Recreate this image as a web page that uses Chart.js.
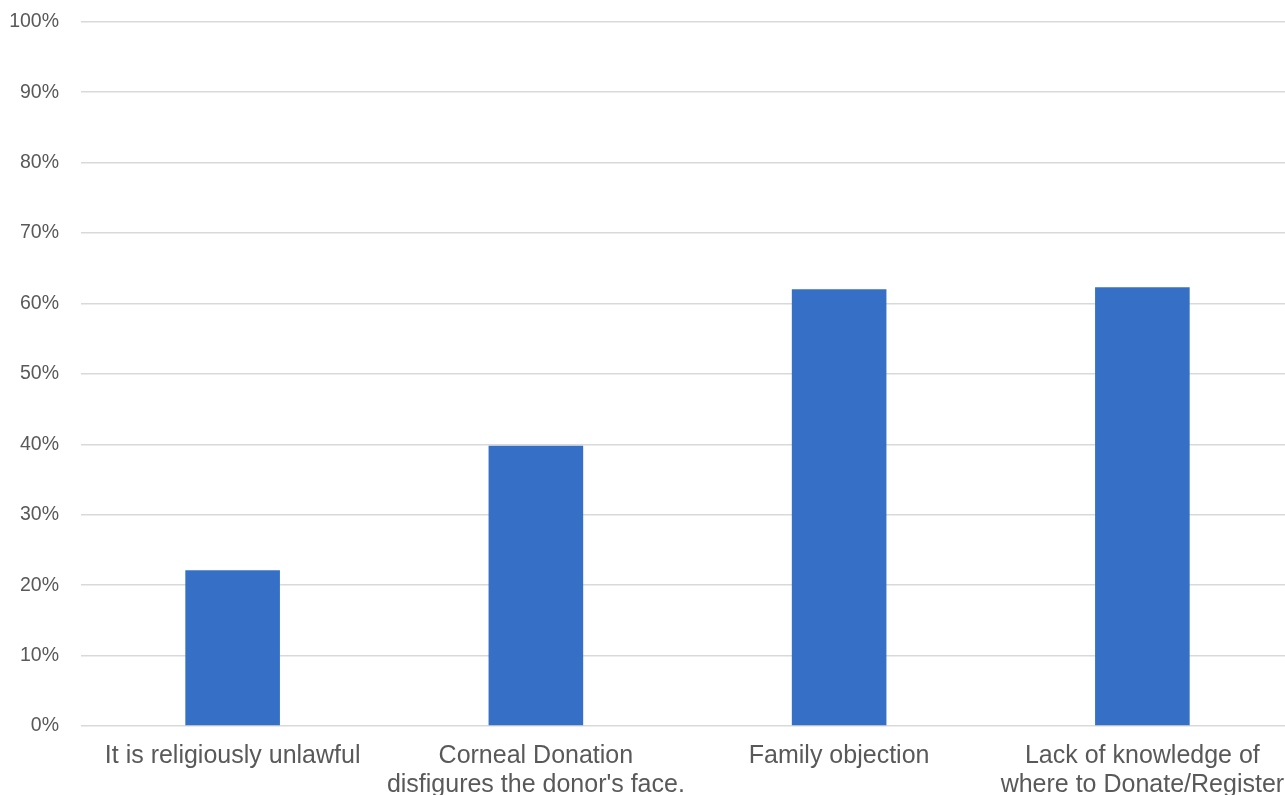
<!DOCTYPE html>
<html>
<head>
<meta charset="utf-8">
<script src="https://cdn.jsdelivr.net/npm/chart.js@4/dist/chart.umd.min.js"></script>
<style>
  html, body { margin: 0; padding: 0; background: #ffffff; overflow: hidden; }
  #wrap { position: absolute; left: 0; top: -12px; width: 1294px; height: 820px; }
</style>
</head>
<body>
<div id="wrap"><canvas id="chart" width="1294" height="820"></canvas></div>
<script>
// Reasons given for not donating corneas (share of respondents, %)
const categories = [
  "It is religiously unlawful",
  ["Corneal Donation", "disfigures the donor's face."],
  "Family objection",
  ["Lack of knowledge of", "where to Donate/Register"]
];
const shares = [22.1, 39.8, 62.0, 62.3];
const yTicks = [0, 10, 20, 30, 40, 50, 60, 70, 80, 90, 100];

const textColor = "#595959";
const fontFamily = "'Liberation Sans', Arial, sans-serif";

new Chart(document.getElementById("chart"), {
  type: "bar",
  data: {
    labels: categories,
    datasets: [{
      data: shares,
      backgroundColor: "#3670c6",
      borderWidth: 0,
      categoryPercentage: 1,
      barPercentage: 0.312
    }]
  },
  options: {
    responsive: false,
    animation: false,
    layout: { padding: { top: 11, right: 0, bottom: 0, left: 0 } },
    plugins: { legend: { display: false }, tooltip: { enabled: false } },
    scales: {
      x: {
        grid: { display: false },
        border: { display: false },
        ticks: {
          color: textColor,
          font: { family: fontFamily, size: 25, lineHeight: 1.16 },
          padding: 8,
          maxRotation: 0,
          autoSkip: false
        }
      },
      y: {
        min: 0,
        max: 100,
        afterBuildTicks: (scale) => { scale.ticks = yTicks.map(v => ({ value: v })); },
        afterFit: (scale) => { scale.width = 81; },
        grid: { color: "#d9d9d9", lineWidth: 1.5, drawTicks: false },
        border: { display: false },
        ticks: {
          color: textColor,
          font: { family: fontFamily, size: 19.5 },
          padding: 22,
          callback: (v) => v + "%"
        }
      }
    }
  }
});
</script>
</body>
</html>
